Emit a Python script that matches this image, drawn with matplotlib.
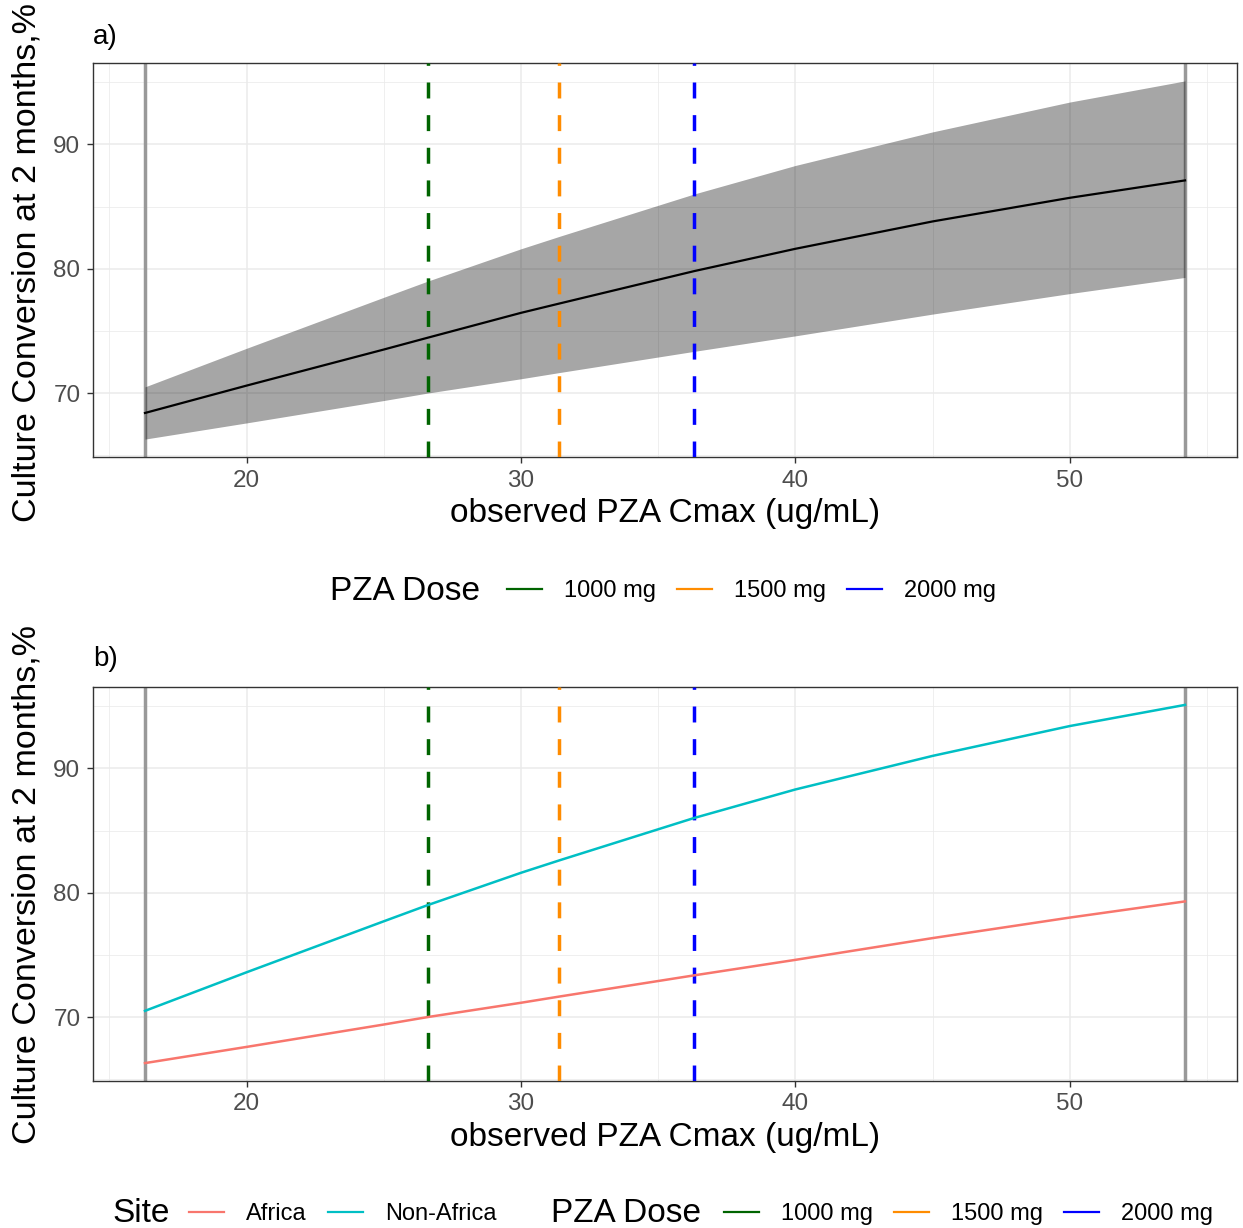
import matplotlib
matplotlib.use('Agg')
import matplotlib.pyplot as plt
from matplotlib.lines import Line2D

plt.rcParams['font.family'] = ['Liberation Sans', 'DejaVu Sans']

# ---------------------------------------------------------------------------
# Data
# ---------------------------------------------------------------------------
cmax = [16.3, 20, 25, 26.6, 30, 31.4, 36.3, 40, 45, 50, 54.2]
pred_overall = [68.4, 70.6, 73.5, 74.45, 76.45, 77.2, 79.8, 81.6, 83.8, 85.7, 87.1]
pred_non_africa = [70.5, 73.6, 77.7, 79.0, 81.6, 82.6, 86.0, 88.3, 91.0, 93.4, 95.1]
pred_africa = [66.3, 67.6, 69.4, 70.0, 71.15, 71.65, 73.35, 74.6, 76.35, 78.0, 79.3]

cmax_range = [16.3, 54.2]                    # observed min / max (grey lines)
dose_labels = ['1000 mg', '1500 mg', '2000 mg']
dose_cmax = [26.6, 31.4, 36.3]               # median Cmax per dose
dose_colors = ['#006400', '#FF8C00', '#0000FF']

site_labels = ['Africa', 'Non-Africa']
site_colors = ['#F8766D', '#00BFC4']

x_ticks = [20, 30, 40, 50]
y_ticks = [70, 80, 90]

W, H = 1243, 1228
ylab = 'Culture Conversion at 2 months,%'
xlab = 'observed PZA Cmax (ug/mL)'


def style_panel(ax):
    ax.set_xticks(x_ticks)
    ax.set_yticks(y_ticks)
    ax.set_xticks([15, 25, 35, 45, 55], minor=True)
    ax.set_yticks([65, 75, 85, 95], minor=True)
    ax.grid(which='major', color='#EBEBEB', lw=1.1)
    ax.grid(which='minor', color='#EBEBEB', lw=0.55)
    ax.set_axisbelow(True)
    ax.tick_params(which='minor', length=0)
    ax.tick_params(which='major', length=4, width=1, color='#333333',
                   labelcolor='#4D4D4D', labelsize=17.5, pad=5)
    for sp in ax.spines.values():
        sp.set_color('#333333')
        sp.set_linewidth(1.0)
    ax.set_xlabel(xlab, fontsize=24, labelpad=5)
    ax.margins(x=0.05, y=0.05)


def add_refs(ax):
    for xv in cmax_range:
        ax.axvline(xv, color='#999999', lw=2.5, zorder=2)
    for xv, c in zip(dose_cmax, dose_colors):
        ax.axvline(xv, color=c, lw=2.5, ls=(0, (4.6, 4.8)), zorder=4)


fig = plt.figure(figsize=(W / 100, H / 100), dpi=100)

# --- panel a: overall prediction with ribbon -------------------------------
ax_a = fig.add_axes([93 / W, 1 - 457 / H, 1144 / W, 394 / H])
add_refs(ax_a)
ax_a.fill_between(cmax, pred_africa, pred_non_africa, color='black',
                  alpha=0.35, lw=0, zorder=3)
ax_a.plot(cmax, pred_overall, color='black', lw=1.6, zorder=5)
style_panel(ax_a)

# --- panel b: by site -------------------------------------------------------
ax_b = fig.add_axes([93 / W, 1 - 1081 / H, 1144 / W, 394 / H])
add_refs(ax_b)
ax_b.plot(cmax, pred_africa, color=site_colors[0], lw=1.8, zorder=5)
ax_b.plot(cmax, pred_non_africa, color=site_colors[1], lw=1.8, zorder=5)
style_panel(ax_b)

# panel tags and y titles
fig.text(93 / W, 1 - 37 / H, 'a)', fontsize=20, ha='left', va='center')
fig.text(93 / W, 1 - 659 / H, 'b)', fontsize=20, ha='left', va='center')
fig.text(27 / W, 1 - 262 / H, ylab, fontsize=24.5, rotation=90,
         ha='center', va='center')
fig.text(27 / W, 1 - 884 / H, ylab, fontsize=24.5, rotation=90,
         ha='center', va='center')

# legends
leg_kw = dict(loc='center left', frameon=False, fontsize=17,
              handlelength=1.48, handletextpad=0.93, columnspacing=0.9,
              borderpad=0, borderaxespad=0)
dose_handles = [Line2D([], [], color=c, lw=1.6) for c in dose_colors]
site_handles = [Line2D([], [], color=c, lw=1.6) for c in site_colors]

fig.text(330 / W, 1 - 591 / H, 'PZA Dose', fontsize=24, ha='left', va='center')
fig.legend(dose_handles, dose_labels, ncol=3,
           bbox_to_anchor=(507 / W, 1 - 591 / H), **leg_kw)

yb = 1 - 1214 / H
fig.text(112 / W, yb, 'Site', fontsize=24, ha='left', va='center')
fig.legend(site_handles, site_labels, ncol=2,
           bbox_to_anchor=(189 / W, yb), **leg_kw)
fig.text(551 / W, yb, 'PZA Dose', fontsize=24, ha='left', va='center')
fig.legend(dose_handles, dose_labels, ncol=3,
           bbox_to_anchor=(724 / W, yb), **leg_kw)

fig.savefig('out.png', dpi=100)
